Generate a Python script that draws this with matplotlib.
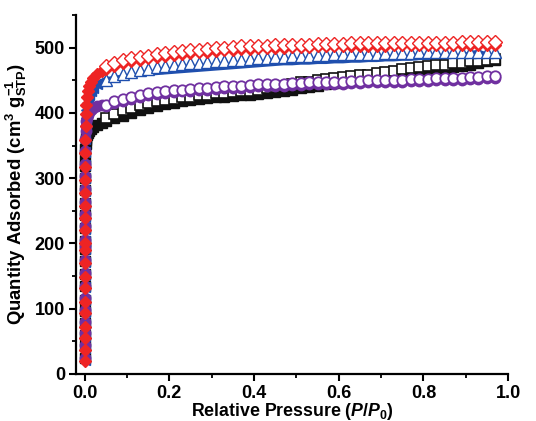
"""N2 isotherms: adsorption (filled) and desorption (open) for four samples."""

import matplotlib
matplotlib.use("Agg")
import matplotlib.pyplot as plt
from matplotlib.ticker import MultipleLocator

plt.rcParams["font.family"] = "Liberation Sans"
plt.rcParams["font.weight"] = "bold"
plt.rcParams["mathtext.fontset"] = "custom"
plt.rcParams["mathtext.rm"] = "Liberation Sans:bold"
plt.rcParams["mathtext.bf"] = "Liberation Sans:bold"
plt.rcParams["mathtext.it"] = "Liberation Sans:italic:bold"

# pressures of the low-pressure (steep) part of the adsorption branch
p_low = [0.0001, 0.0002, 0.0003, 0.0004, 0.0005, 0.0006, 0.0007, 0.0008, 0.0009,
         0.0010, 0.0011, 0.0012, 0.0013, 0.0014, 0.0015, 0.0016, 0.0017, 0.0018,
         0.0020, 0.0025, 0.0030, 0.0040, 0.0060, 0.0080, 0.011, 0.015, 0.020,
         0.030, 0.040]

# pressures of the plateau part (both branches)
p_high = [0.05, 0.07, 0.09, 0.11, 0.13, 0.15, 0.17, 0.19, 0.21, 0.23, 0.25, 0.27,
          0.29, 0.31, 0.33, 0.35, 0.37, 0.39, 0.41, 0.43, 0.45, 0.47, 0.49, 0.51,
          0.53, 0.55, 0.57, 0.59, 0.61, 0.63, 0.65, 0.67, 0.69, 0.71, 0.73, 0.75,
          0.77, 0.79, 0.81, 0.83, 0.85, 0.87, 0.89, 0.91, 0.93, 0.95, 0.97]

# adsorption, low pressure part
red_ads_low = [20, 37, 55, 72, 93, 110, 131, 148, 170, 190, 200, 220, 239, 258, 277,
               297, 317, 338, 358, 380, 398, 412, 425, 433, 441, 448, 453, 460, 465]
blue_ads_low = [22, 40, 58, 76, 95, 113, 133, 152, 172, 191, 203, 222, 241, 260, 280,
                300, 320, 340, 360, 378, 392, 404, 415, 422, 428, 434, 439, 445, 449]
purple_ads_low = [25, 45, 62, 80, 98, 116, 135, 155, 175, 194, 206, 226, 245, 264, 284,
                  303, 322, 342, 360, 372, 380, 387, 393, 397, 401, 404, 407, 410, 412]
black_ads_low = [24, 43, 60, 78, 96, 114, 134, 153, 173, 192, 204, 224, 243, 262, 282,
                 301, 318, 332, 345, 352, 358, 362, 366, 369, 372, 375, 378, 382, 385]

# adsorption, plateau part
red_ads_high = [468, 472, 476, 479, 482, 484, 486, 488, 489, 491, 492, 493, 494, 495,
                496, 497, 498, 498, 499, 499, 500, 500, 501, 501, 501, 502, 502, 502,
                502, 503, 503, 503, 503, 503, 504, 504, 504, 504, 504, 504, 504, 504,
                505, 505, 505, 505, 505]
blue_ads_high = [452, 454, 456, 457, 459, 460, 461, 462, 463, 464, 465, 466, 467, 468,
                 469, 470, 471, 472, 473, 474, 475, 476, 476, 477, 477, 478, 478, 479,
                 479, 480, 480, 481, 481, 482, 482, 483, 483, 484, 484, 485, 485, 486,
                 487, 492, 494, 490, 488]
purple_ads_high = [410, 415, 419, 422, 425, 427, 429, 431, 432, 433, 434, 435, 436, 437,
                   438, 439, 439, 440, 441, 441, 442, 442, 443, 443, 444, 444, 445, 445,
                   445, 446, 446, 447, 447, 447, 448, 448, 449, 449, 449, 450, 450, 451,
                   451, 452, 452, 453, 454]
black_ads_high = [387, 392, 396, 400, 404, 408, 411, 414, 416, 418, 420, 421, 423, 424,
                  425, 426, 427, 428, 429, 430, 432, 434, 436, 438, 440, 442, 444, 446,
                  448, 450, 452, 454, 455, 457, 459, 461, 463, 464, 465, 466, 468, 470,
                  472, 474, 476, 479, 481]

# desorption
red_des = [472, 477, 481, 484, 486, 488, 490, 492, 493, 495, 496, 497, 498, 499, 500,
           501, 502, 502, 503, 503, 504, 504, 505, 505, 505, 506, 506, 506, 506, 507,
           507, 507, 507, 507, 508, 508, 508, 508, 508, 508, 508, 508, 509, 509, 509,
           509, 509]
blue_des = [450, 456, 460, 463, 466, 468, 470, 472, 473, 475, 476, 477, 478, 479, 480,
            481, 482, 483, 484, 485, 486, 486, 487, 488, 488, 489, 489, 490, 490, 490,
            491, 491, 491, 492, 492, 492, 492, 493, 493, 493, 493, 494, 494, 494, 494,
            494, 494]
purple_des = [413, 418, 422, 425, 428, 430, 432, 434, 435, 436, 437, 438, 439, 440, 441,
              442, 442, 443, 444, 444, 445, 445, 446, 446, 447, 447, 448, 448, 448, 449,
              449, 450, 450, 450, 451, 451, 452, 452, 452, 453, 453, 454, 454, 455, 455,
              456, 457]
black_des = [393, 399, 404, 408, 412, 415, 418, 420, 422, 424, 425, 427, 428, 430, 431,
             432, 433, 434, 436, 438, 440, 442, 445, 447, 448, 450, 452, 454, 455, 457,
             458, 459, 461, 463, 465, 467, 469, 471, 472, 473, 474, 476, 477, 479, 480,
             482, 483]

BLACK = "#111111"
BLUE = "#1f4fae"
PURPLE = "#7030a0"
RED = "#ee2424"

fig = plt.figure(figsize=(5.36, 4.21), dpi=100)
ax = fig.add_axes([0.142, 0.112, 0.806, 0.852])

# black squares
ax.plot(p_low + p_high, black_ads_low + black_ads_high, "s", color=BLACK,
        ms=6.5, mec=BLACK, zorder=2)
ax.plot(p_high, black_des, "s", mfc="white", mec=BLACK, ms=7, mew=1.2, zorder=3)

# blue triangles (adsorption plateau looks like a continuous line)
ax.plot(p_low + p_high, blue_ads_low + blue_ads_high, "-", color=BLUE, lw=2.8, zorder=2)
ax.plot(p_low, blue_ads_low, "<", color=BLUE, ms=7.5, mec=BLUE, zorder=2)
ax.plot(p_high, blue_des, "^", mfc="white", mec=BLUE, ms=8.5, mew=1.0, zorder=3)

# purple circles
ax.plot(p_low + p_high, purple_ads_low + purple_ads_high, "o", color=PURPLE,
        ms=7.5, mec=PURPLE, zorder=4)
ax.plot(p_high, purple_des, "o", mfc="white", mec=PURPLE, ms=7.5, mew=1.3, zorder=5)

# red diamonds
ax.plot(p_low + p_high, red_ads_low + red_ads_high, "D", color=RED, ms=6.5,
        mec=RED, zorder=6)
ax.plot(p_high, red_des, "D", mfc="white", mec=RED, ms=6.8, mew=1.0, zorder=7)

ax.set_xlim(-0.02, 1.0)
ax.set_ylim(0, 550)
ax.xaxis.set_major_locator(MultipleLocator(0.2))
ax.xaxis.set_minor_locator(MultipleLocator(0.1))
ax.yaxis.set_major_locator(MultipleLocator(100))
ax.yaxis.set_minor_locator(MultipleLocator(50))
ax.set_xticks([0.0, 0.2, 0.4, 0.6, 0.8, 1.0])
ax.set_xticklabels(["0.0", "0.2", "0.4", "0.6", "0.8", "1.0"])

for side in ["top", "right"]:
    ax.spines[side].set_visible(False)
for side in ["left", "bottom"]:
    ax.spines[side].set_linewidth(1.6)

ax.tick_params(which="major", direction="out", length=5, width=1.5,
               labelsize=13, pad=3)
ax.tick_params(which="minor", direction="out", length=3, width=1.3)
for lab in ax.get_xticklabels() + ax.get_yticklabels():
    lab.set_fontweight("bold")

ax.set_xlabel(r"Relative Pressure ($\mathit{P}$/$\mathit{P}_{\mathrm{0}}$)",
              fontsize=12.8, fontweight="bold", labelpad=-1)
ax.set_ylabel(r"Quantity Adsorbed (cm$^{\mathrm{3}}$ g$_{\mathrm{STP}}^{\mathrm{-1}}$)",
              fontsize=13.3, fontweight="bold", labelpad=4)

fig.savefig("out.png", dpi=100)
